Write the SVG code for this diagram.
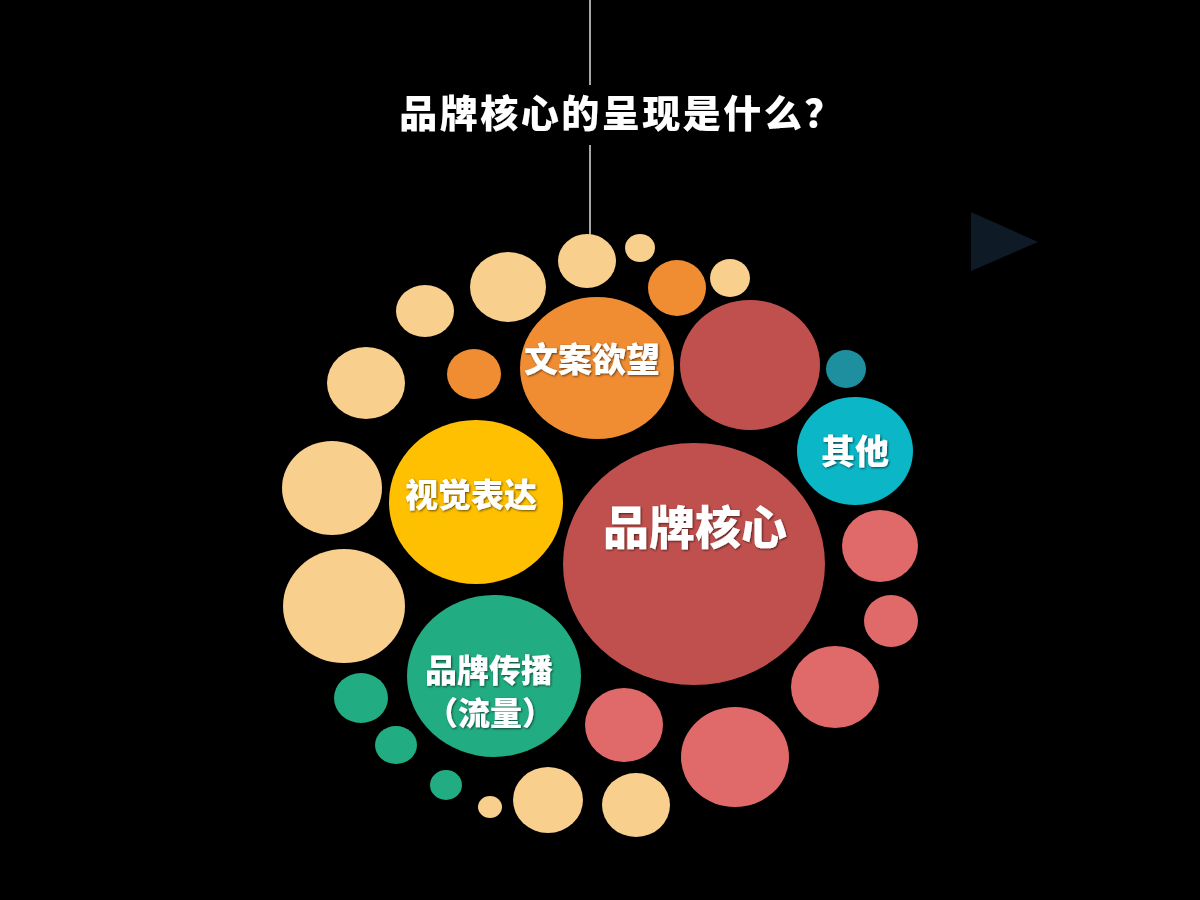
<svg xmlns="http://www.w3.org/2000/svg" width="1200" height="900" viewBox="0 0 1200 900">
  <defs>
    <style>
      .peach{fill:#f8cf8d}
      .orange{fill:#f08d33}
      .red{fill:#c0504d}
      .coral{fill:#e06a69}
      .green{fill:#22ac82}
      .teal{fill:#1d8f9f}
      .cyan{fill:#0bb6c6}
      .yellow{fill:#fec000}
      .lbl{font-family:"Noto Sans CJK SC","Noto Sans CJK JP",sans-serif;font-weight:900;fill:#ffffff;text-anchor:middle;filter:url(#sh)}
    </style>
    <filter id="sh" x="-10%" y="-30%" width="120%" height="160%">
      <feDropShadow dx="1" dy="1" stdDeviation="0.8" flood-color="#000" flood-opacity="0.6"/>
    </filter>
  </defs>
  <rect width="1200" height="900" fill="#000"/>
  <g id="connectors">
    <line x1="590" y1="0" x2="590" y2="85" stroke="#a6a6a6" stroke-width="2"/>
    <line x1="590" y1="145" x2="590" y2="236" stroke="#a6a6a6" stroke-width="2"/>
  </g>
  <g id="title">
    <text class="lbl" x="622" y="127" font-size="38" letter-spacing="2.5">品牌核心的呈现是什么？</text>
  </g>
  <g id="triangle">
    <polygon points="971,212 1038,242 971,271" fill="#0e1a26"/>
  </g>
  <g id="dots">
    <ellipse class="peach" cx="587" cy="261" rx="29" ry="27"/>
    <ellipse class="peach" cx="640" cy="248" rx="15" ry="14"/>
    <ellipse class="orange" cx="677" cy="288" rx="29" ry="28"/>
    <ellipse class="peach" cx="730" cy="278" rx="20" ry="19"/>
    <ellipse class="peach" cx="508" cy="287" rx="38" ry="35"/>
    <ellipse class="peach" cx="425" cy="311" rx="29" ry="26"/>
    <ellipse class="teal" cx="846" cy="369" rx="20" ry="19"/>
    <ellipse class="orange" cx="474" cy="374" rx="27" ry="25"/>
    <ellipse class="peach" cx="366" cy="383" rx="39" ry="36"/>
    <ellipse class="peach" cx="332" cy="488" rx="50" ry="47"/>
    <ellipse class="coral" cx="880" cy="546" rx="38" ry="36"/>
    <ellipse class="peach" cx="344" cy="606" rx="61" ry="57"/>
    <ellipse class="coral" cx="891" cy="621" rx="27" ry="26"/>
    <ellipse class="coral" cx="835" cy="687" rx="44" ry="41"/>
    <ellipse class="green" cx="361" cy="698" rx="27" ry="25"/>
    <ellipse class="coral" cx="624" cy="725" rx="39" ry="37"/>
    <ellipse class="green" cx="396" cy="745" rx="21" ry="19"/>
    <ellipse class="coral" cx="735" cy="757" rx="54" ry="50"/>
    <ellipse class="green" cx="446" cy="785" rx="16" ry="15"/>
    <ellipse class="peach" cx="490" cy="807" rx="12" ry="11"/>
    <ellipse class="peach" cx="548" cy="800" rx="35" ry="33"/>
    <ellipse class="peach" cx="636" cy="805" rx="34" ry="32"/>
    <ellipse class="red" cx="750" cy="365" rx="70" ry="65"/>
  </g>
  <g id="node-wenan">
    <ellipse class="orange" cx="597" cy="368" rx="77" ry="71"/>
    <text class="lbl" x="592" y="372" font-size="34">文案欲望</text>
  </g>
  <g id="node-qita">
    <ellipse class="cyan" cx="855" cy="451" rx="58" ry="54"/>
    <text class="lbl" x="855" y="464" font-size="34">其他</text>
  </g>
  <g id="node-shijue">
    <ellipse class="yellow" cx="476" cy="502" rx="87" ry="82"/>
    <text class="lbl" x="471" y="507" font-size="33">视觉表达</text>
  </g>
  <g id="node-pinpaihexin">
    <ellipse class="red" cx="694" cy="564" rx="131" ry="121"/>
    <text class="lbl" x="695" y="544" font-size="46">品牌核心</text>
  </g>
  <g id="node-chuanbo">
    <ellipse class="green" cx="494" cy="676" rx="87" ry="81"/>
    <text class="lbl" x="489" y="682" font-size="32">品牌传播</text>
    <text class="lbl" x="490" y="725" font-size="32">（流量）</text>
  </g>
</svg>
